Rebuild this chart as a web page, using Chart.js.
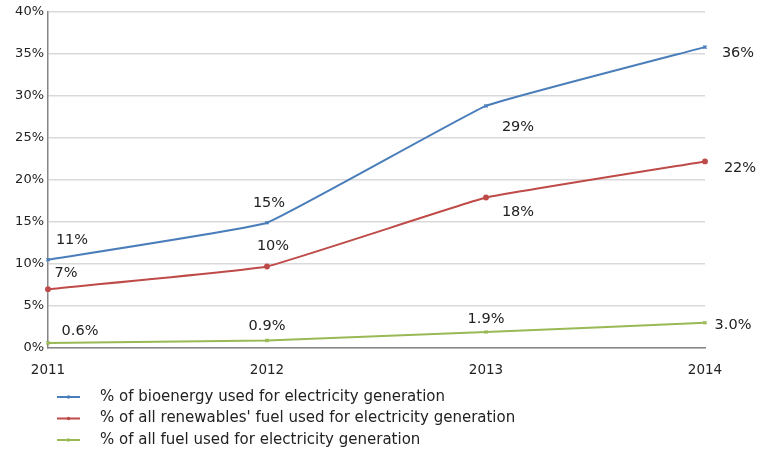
<!DOCTYPE html>
<html lang="en">
<head>
    <meta charset="UTF-8">
    <title>Bioenergy used for electricity generation</title>
    <script src="https://cdn.jsdelivr.net/npm/chart.js"></script>
    <style>
        html, body { margin: 0; padding: 0; background: #fff; }
        #wrap { width: 773px; height: 455px; }
    </style>
</head>
<body>
    <div id="wrap"><canvas id="chart" width="773" height="455"></canvas></div>

    <script>
        // data
        const years = ['2011', '2012', '2013', '2014'];
        const bioenergy = [10.5, 14.9, 28.8, 35.8];
        const renewables = [7.0, 9.7, 17.9, 22.2];
        const allFuel = [0.6, 0.9, 1.9, 3.0];
        const bioLabels = ['11%', '15%', '29%', '36%'];
        const renLabels = ['7%', '10%', '18%', '22%'];
        const fuelLabels = ['0.6%', '0.9%', '1.9%', '3.0%'];
        const seriesNames = [
            '% of bioenergy used for electricity generation',
            "% of all renewables' fuel used for electricity generation",
            '% of all fuel used for electricity generation'
        ];

        const FONT = '"DejaVu Sans", Verdana, sans-serif';

        // label offsets from each point (dx, dy)
        const labelOffsets = [
            [[24, -20], [2, -20], [32, 21], [33, 6]],
            [[18, -16], [6, -20], [32, 15], [35, 7]],
            [[32, -12], [0, -14], [0, -13], [28, 2]]
        ];

        const pointLabels = {
            id: 'pointLabels',
            afterDatasetsDraw(chart) {
                const ctx = chart.ctx;
                ctx.save();
                ctx.font = '14.5px ' + FONT;
                ctx.fillStyle = '#222';
                ctx.textAlign = 'center';
                ctx.textBaseline = 'middle';
                chart.data.datasets.forEach((ds, i) => {
                    chart.getDatasetMeta(i).data.forEach((pt, j) => {
                        const off = labelOffsets[i][j];
                        ctx.fillText(ds.valueLabels[j], pt.x + off[0], pt.y + off[1]);
                    });
                });
                ctx.restore();
            }
        };

        // legend as a vertical list under the chart
        const bottomLegend = {
            id: 'bottomLegend',
            afterDraw(chart) {
                const ctx = chart.ctx;
                ctx.save();
                ctx.font = '15px ' + FONT;
                ctx.textBaseline = 'middle';
                chart.data.datasets.forEach((ds, i) => {
                    const y = 397 + i * 21.5;
                    ctx.strokeStyle = ds.borderColor;
                    ctx.lineWidth = 2;
                    ctx.beginPath();
                    ctx.moveTo(57, y);
                    ctx.lineTo(80, y);
                    ctx.stroke();
                    ctx.fillStyle = ds.borderColor;
                    ctx.beginPath();
                    ctx.arc(68.5, y, 1.8, 0, Math.PI * 2);
                    ctx.fill();
                    ctx.fillStyle = '#222';
                    ctx.fillText(ds.label, 100, y);
                });
                ctx.restore();
            }
        };

        function makeSet(label, data, valueLabels, color, style) {
            return {
                label: label,
                data: data,
                valueLabels: valueLabels,
                borderColor: color,
                backgroundColor: color,
                borderWidth: 2,
                pointStyle: style,
                pointRadius: 2.2,
                pointBorderWidth: 1.5,
                tension: 0.08
            };
        }

        new Chart(document.getElementById('chart'), {
            type: 'line',
            data: {
                labels: years,
                datasets: [
                    makeSet(seriesNames[0], bioenergy, bioLabels, '#4a7ebb', 'crossRot'),
                    makeSet(seriesNames[1], renewables, renLabels, '#be4b48', 'circle'),
                    makeSet(seriesNames[2], allFuel, fuelLabels, '#98b954', 'crossRot')
                ]
            },
            options: {
                responsive: false,
                animation: false,
                layout: { padding: { top: 11, right: 68, bottom: 73, left: 0 } },
                plugins: {
                    legend: { display: false },
                    tooltip: { enabled: false }
                },
                scales: {
                    x: {
                        offset: false,
                        grid: { display: false },
                        border: { color: '#868686', width: 1.5 },
                        ticks: { color: '#222', font: { family: FONT, size: 13.5 }, maxRotation: 0, padding: 6 },
                        afterFit(scale) { scale.height = 34; }
                    },
                    y: {
                        min: 0,
                        max: 40,
                        grid: { color: '#d9d9d9', lineWidth: 1.5, drawTicks: false },
                        border: { color: '#868686', width: 1.5 },
                        ticks: {
                            stepSize: 5,
                            padding: 4,
                            color: '#222',
                            font: { family: FONT, size: 13 },
                            callback: v => v + '%'
                        },
                        afterFit(scale) { scale.width = 48; }
                    }
                }
            },
            plugins: [pointLabels, bottomLegend]
        });
    </script>
</body>
</html>
